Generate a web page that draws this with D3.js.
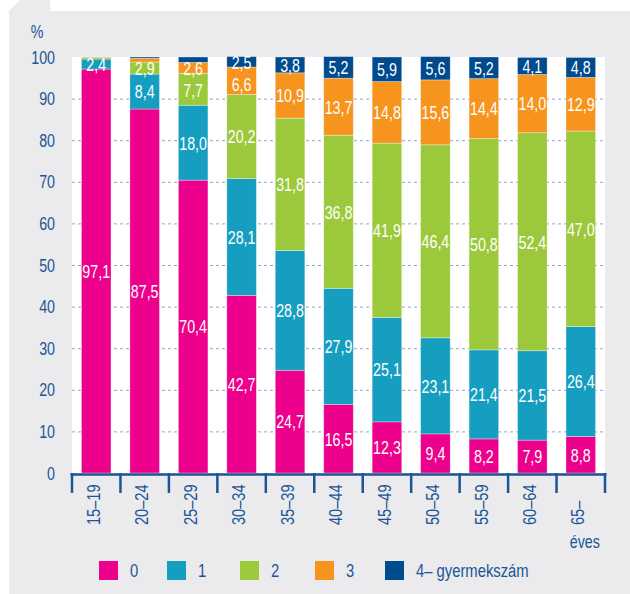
<!DOCTYPE html>
<html><head><meta charset="utf-8">
<script src="https://cdn.jsdelivr.net/npm/d3@7"></script>
<style>
html,body{margin:0;padding:0;background:#fff;}
svg{display:block;}
text{font-family:"Liberation Sans",Arial,sans-serif;}
</style></head>
<body>
<script>
const categories = ["15–19","20–24","25–29","30–34","35–39","40–44","45–49","50–54","55–59","60–64","65–"];
const seriesNames = ["0","1","2","3","4–"];
const s0 = [97.1,87.5,70.4,42.7,24.7,16.5,12.3,9.4,8.2,7.9,8.8];
const s1 = [2.4,8.4,18.0,28.1,28.8,27.9,25.1,23.1,21.4,21.5,26.4];
const s2 = [0.4,2.9,7.7,20.2,31.8,36.8,41.9,46.4,50.8,52.4,47.0];
const s3 = [0.1,0.9,2.6,6.6,10.9,13.7,14.8,15.6,14.4,14.0,12.9];
const s4 = [0.0,0.3,1.3,2.5,3.8,5.2,5.9,5.6,5.2,4.1,4.8];
const yTicks = [0,10,20,30,40,50,60,70,80,90,100];
const colors = ["#EC008C","#159EBF","#9CC93B","#F7941E","#004A8E"];
const legendLabel = ["0","1","2","3","4–  gyermekszám"];
const minLabel = 2.0;

const W=630,H=594;
const svg=d3.select("body").append("svg").attr("width",W).attr("height",H);
const axisCol="#1B5596";
const SX=0.77;

// background panel
svg.append("rect").attr("x",9).attr("y",11).attr("width",W-9).attr("height",H-11).attr("fill","#EBEBEE");
svg.append("polygon").attr("points","9,11 20,0 50,0 50,11").attr("fill","#EBEBEE");

const x=d3.scaleBand().domain(categories).range([72,605]).paddingInner(0.39).paddingOuter(0.195);
const y=d3.scaleLinear().domain([0,100]).range([473,57]);

// plot white area
svg.append("rect").attr("x",72).attr("y",y(100)).attr("width",605-72).attr("height",y(0)-y(100)).attr("fill","#fff");

// gridlines
svg.append("g").selectAll("line").data(yTicks.filter(t=>t>0&&t<100)).join("line")
  .attr("x1",72).attr("x2",605).attr("y1",d=>y(d)+0.5).attr("y2",d=>y(d)+0.5)
  .attr("stroke","#8EA3D3").attr("stroke-width",1).attr("stroke-dasharray","3,3");

// stacked data
const series=[s0,s1,s2,s3,s4];
const rows=categories.map((c,i)=>{const o={cat:c};seriesNames.forEach((n,k)=>o[n]=series[k][i]);return o;});
const stacked=d3.stack().keys(seriesNames)(rows);

const g=svg.append("g");
stacked.forEach((layer,k)=>{
  g.append("g").selectAll("rect").data(layer).join("rect")
    .attr("x",d=>x(d.data.cat)).attr("width",x.bandwidth())
    .attr("y",d=>y(d[1])).attr("height",d=>Math.max(0,y(d[0])-y(d[1])))
    .attr("fill",colors[k]).attr("stroke","rgba(255,255,255,0.4)").attr("stroke-width",0.8);
});

// labels: from top segment down, keep a minimum vertical gap
const labels=[];
categories.forEach((c,i)=>{
  let prev=-Infinity;
  for(let k=stacked.length-1;k>=0;k--){
    const d=stacked[k][i];
    if(d[1]-d[0]<minLabel) continue;
    const yy=Math.max(y((d[0]+d[1])/2), prev+22);
    prev=yy;
    labels.push({cat:c,y:yy,v:d[1]-d[0]});
  }
});
g.append("g").selectAll("text").data(labels).join("text")
  .attr("transform",d=>`translate(${x(d.cat)+x.bandwidth()/2},${d.y}) scale(0.75,1)`)
  .attr("dy","0.36em").attr("text-anchor","middle")
  .attr("fill","#fff").attr("font-size",19)
  .text(d=>d.v.toFixed(1).replace(".",","));

// y tick labels
svg.append("g").selectAll("text").data(yTicks).join("text")
  .attr("transform",d=>`translate(55,${y(d)}) scale(${SX},1)`).attr("dy","0.36em").attr("text-anchor","end")
  .attr("fill",axisCol).attr("font-size",18.5).text(d=>d);
svg.append("text").attr("transform",`translate(37,38) scale(${SX},1)`).attr("text-anchor","middle")
  .attr("fill",axisCol).attr("font-size",18.5).text("%");

// x axis
const step=x.step();
const bounds=d3.range(categories.length+1).map(i=>72+i*step);
svg.append("line").attr("x1",70.5).attr("x2",606.5).attr("y1",474.5).attr("y2",474.5)
  .attr("stroke",axisCol).attr("stroke-width",2.5);
svg.append("g").selectAll("line").data(bounds).join("line")
  .attr("x1",d=>d).attr("x2",d=>d).attr("y1",473).attr("y2",493)
  .attr("stroke",axisCol).attr("stroke-width",2.5);
svg.append("g").selectAll("text").data(categories).join("text")
  .attr("transform",d=>`translate(${x(d)+x.bandwidth()/2-3},525) rotate(-90) scale(0.79,1)`)
  .attr("dy","0.36em").attr("text-anchor","start")
  .attr("fill",axisCol).attr("font-size",18.5).text(d=>d);
svg.append("text").attr("transform",`translate(${x("65–")+x.bandwidth()/2+4},548) scale(${SX},1)`).attr("text-anchor","middle")
  .attr("fill",axisCol).attr("font-size",18.5).text("éves");

// legend
const legX=[99,167,240,315,385];
const lg=svg.append("g").selectAll("g").data(seriesNames).join("g")
  .attr("transform",(d,i)=>`translate(${legX[i]},561)`);
lg.append("rect").attr("width",19).attr("height",19).attr("fill",(d,i)=>colors[i]);
lg.append("text").attr("transform",`translate(31,16) scale(0.8,1)`).attr("fill",axisCol).attr("font-size",18.5)
  .text((d,i)=>legendLabel[i]);
</script>
</body></html>
